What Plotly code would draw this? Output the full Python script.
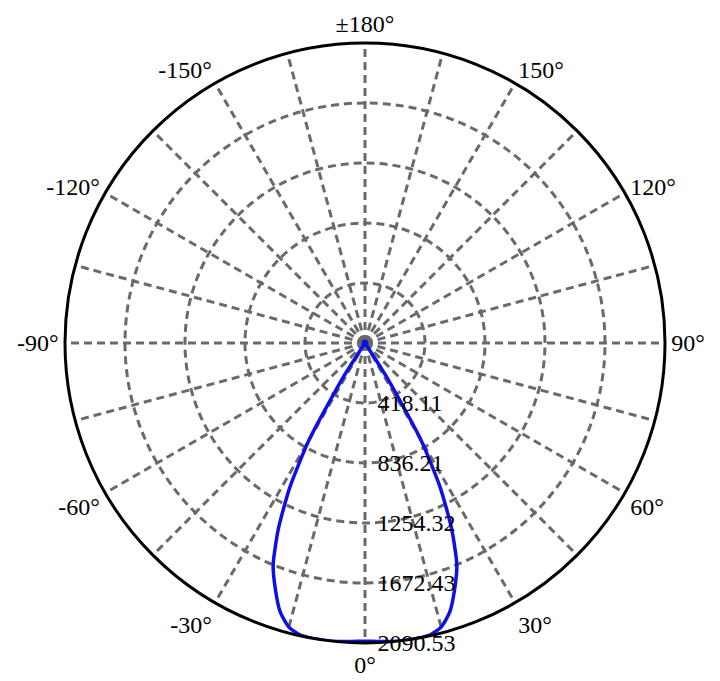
import plotly.graph_objects as go

# Luminous intensity (cd) vs. angle (deg)
angles = [-180, -170, -160, -150, -140, -130, -120, -110, -100, -90, -80, -70, -60, -50, -45, -40,
          -35, -32.5, -30, -27.5, -25, -22.5, -20, -17.5, -15, -12.5, -10, -7.5, -5, -2.5,
          0, 2.5, 5, 7.5, 10, 12.5, 15, 17.5, 20, 22.5, 25, 27.5, 30, 32.5, 35,
          40, 45, 50, 60, 70, 80, 90, 100, 110, 120, 130, 140, 150, 160, 170, 180]
intensity = [12, 12, 12, 12, 12, 12, 12, 12, 12, 12, 12, 12, 13, 14, 15, 16,
             22, 280, 780, 1136, 1428, 1672, 1826, 1965, 2050, 2085, 2090, 2090.5, 2088, 2082,
             2078, 2082, 2088, 2090.5, 2090, 2085, 2050, 1965, 1826, 1672, 1428, 1136, 780, 280, 22,
             16, 15, 14, 13, 12, 12, 12, 12, 12, 12, 12, 12, 12, 12, 12, 12]

radial_ticks = [418.11, 836.21, 1254.32, 1672.43, 2090.53]
radial_labels = ["418.11", "836.21", "1254.32", "1672.43", "2090.53"]

angle_ticks = list(range(0, 360, 15))
angle_labels = ["0°", "", "30°", "", "60°", "", "90°", "", "120°", "", "150°", "",
                "±180°", "", "-150°", "", "-120°", "", "-90°", "", "-60°", "", "-30°", ""]

theta = [a % 360 for a in angles]

fig = go.Figure()
fig.add_trace(go.Scatterpolar(
    r=intensity, theta=theta, mode="lines",
    line=dict(color="#1010e6", width=3.5, shape="spline", smoothing=0.6),
    showlegend=False, hoverinfo="skip",
))

font = dict(family="Liberation Serif, Times New Roman, serif", size=24, color="black")
grid_color = "#6a6a6a"

fig.update_layout(
    width=720, height=681,
    margin=dict(l=57, r=63, t=35, b=46),
    paper_bgcolor="white",
    plot_bgcolor="white",
    font=font,
    polar=dict(
        bgcolor="white",
        domain=dict(x=[0, 1], y=[0, 1]),
        angularaxis=dict(
            rotation=-90,
            direction="counterclockwise",
            tickmode="array",
            tickvals=angle_ticks,
            ticktext=angle_labels,
            showline=True, linecolor="black", linewidth=3,
            showgrid=True, gridcolor=grid_color, gridwidth=3, griddash="8px,5px",
            ticks="",
            tickfont=font,
        ),
        radialaxis=dict(
            range=[0, 2090.53],
            angle=-90,
            tickangle=-90,
            tickmode="array",
            tickvals=radial_ticks,
            ticktext=["\u00a0\u00a0" + t for t in radial_labels],
            showline=False,
            showgrid=True, gridcolor=grid_color, gridwidth=3, griddash="8px,5px",
            ticks="",
            tickfont=font,
            side="counterclockwise",
        ),
    ),
)

fig.write_html("out.html")
